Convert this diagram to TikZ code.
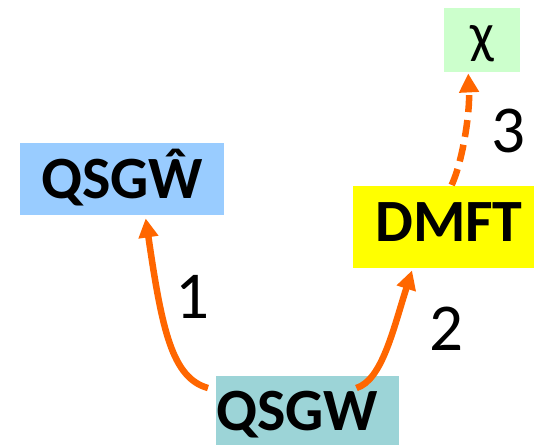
\documentclass[tikz,border=0pt]{standalone}
\usepackage{fontspec}
\setmainfont{Carlito}
\usetikzlibrary{arrows.meta,calc}
\definecolor{boxblue}{HTML}{99CCFF}
\definecolor{boxyellow}{HTML}{FFFF00}
\definecolor{boxgreen}{HTML}{CCFFCC}
\definecolor{boxteal}{HTML}{9CD4D7}
\definecolor{flow}{HTML}{FF6600}
\tikzset{
  panel/.style={draw=none, inner sep=0pt, anchor=north west},
  title/.style={font=\fontsize{60}{64}\selectfont\bfseries, inner sep=0pt, anchor=base west},
  stepnum/.style={font=\fontsize{67}{70}\selectfont, inner sep=0pt},
  flowarrow/.style={draw=flow, line width=6.5pt, line cap=butt,
    -{Triangle[width=19pt,length=19pt]}},
}
\begin{document}
\begin{tikzpicture}[x=1pt,y=-1pt]
  \useasboundingbox (0,0) rectangle (534,445);
  % coloured panels
  \node[panel, fill=boxblue,   minimum width=204pt, minimum height=72pt] (qsgwhat) at (20,143) {};
  \node[panel, fill=boxyellow, minimum width=181pt, minimum height=82pt] (dmft) at (353,186) {};
  \node[panel, fill=boxgreen,  minimum width=76pt,  minimum height=64pt] (chi) at (444,8) {};
  \node[panel, fill=boxteal,   minimum width=183pt, minimum height=69pt] (qsgw) at (216,376) {};
  % panel titles
  \node[title] (tqsgwhat) at (41,198) {QSGŴ};
  \node[title] (tdmft) at (375,241) {DMFT};
  \node[title] (tqsgw) at (216,430) {QSGW};
  \node[font=\fontsize{56}{60}\selectfont, inner sep=0pt] (tchi) at (482,44) {χ};
  % arrows between the stages
  \draw[flowarrow]
    ($(qsgw.north west)+(-8,12)$) .. controls (172,378) and (162,330) ..
    ($(qsgwhat.south)+(23.5,3)$);
  \draw[flowarrow]
    ($(qsgw.north east)+(-43,12)$) .. controls (382,380) and (393,330) ..
    ($(dmft.south west)+(59,2)$);
  \draw[flowarrow, dash pattern=on 17pt off 8pt]
    ($(dmft.north)+(8,-1)$) .. controls (463,160) and (470,112) ..
    ($(chi.south)+(-14,1)$);
  % step numbers
  \node[stepnum] (n1) at (192,297) {1};
  \node[stepnum] (n2) at (446,329) {2};
  \node[stepnum] (n3) at (508,131) {3};
\end{tikzpicture}
\end{document}
